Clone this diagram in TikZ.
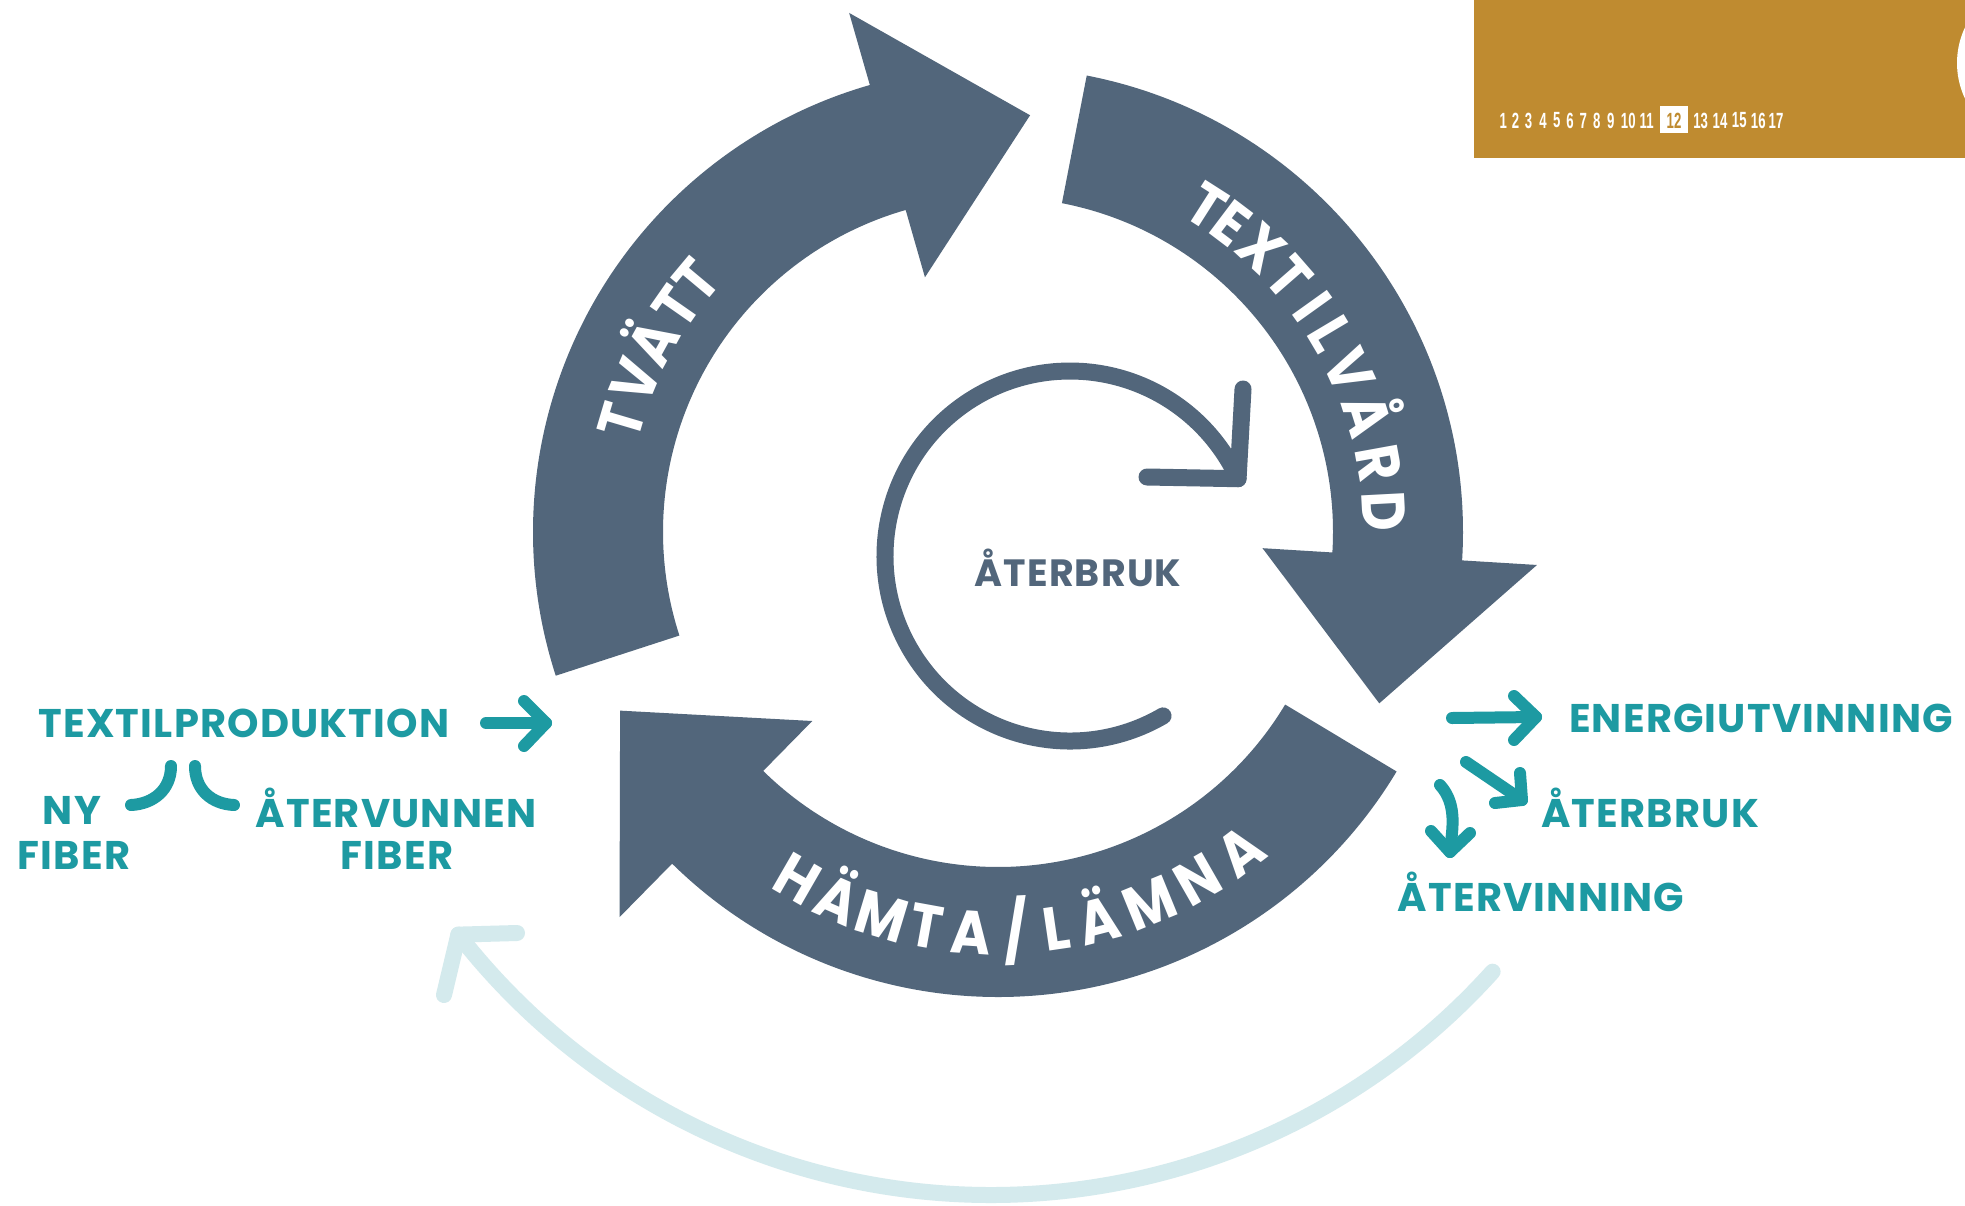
\documentclass[tikz,border=0pt]{standalone}
\usepackage{fontspec}
\setmainfont{Poppins}
\newfontfamily\numfont{Liberation Sans}[FakeStretch=0.6]
\usetikzlibrary{arrows.meta}
\definecolor{slate}{HTML}{52667B}
\definecolor{tealc}{HTML}{1D9AA2}
\definecolor{lightc}{HTML}{D4EAED}
\definecolor{goldc}{HTML}{BF8B30}
\newcommand\slsh{/}
\newcommand\cycarrow[3]{%
  \fill[slate] (#1:465) arc[start angle=#1, end angle=#2, radius=465]
    -- (#2:540) -- (#3:418) -- (#2:265) -- (#2:335)
    arc[start angle=#2, end angle=#1, radius=335] -- cycle;}
\begin{document}
\begin{tikzpicture}[x=1pt,y=-1pt,
  arcl/.style={text=white, font=\fontsize{61}{61}\selectfont\bfseries\addfontfeature{FakeStretch=0.9}, inner sep=0pt, text height=43pt, text depth=0pt},
  tealtxt/.style={text=tealc, font=\fontsize{40}{40}\selectfont\bfseries\addfontfeature{LetterSpace=3}, inner sep=0pt, text height=28pt, text depth=0pt},
  slatetxt/.style={text=slate, font=\fontsize{38}{38}\selectfont\bfseries\addfontfeature{LetterSpace=3}, inner sep=0pt, text height=27pt, text depth=0pt},
  tline/.style={draw=tealc, line width=12pt, line cap=round, line join=round},
  numtxt/.style={text=white, font=\fontsize{22}{22}\selectfont\numfont\bfseries, inner sep=0pt},
]
\useasboundingbox (0,0) rectangle (1965,1205);
\fill[white] (0,0) rectangle (1965,1205);

% gold tab
\fill[goldc] (1474,0) rectangle (1980,158);
\fill[white] (2040,63) circle[radius=83];
\fill[white] (1660,106) rectangle (1688,133);
\foreach \n/\x [count=\i] in {1/1503.3,2/1515.5,3/1528.5,4/1543,5/1556.7,6/1570,7/1583.3,8/1596.7,9/1610.7,10/1628.3,11/1646.7,13/1700.7,14/1720,15/1739.3,16/1758.3,17/1776}
  \node[numtxt] (num\i) at (\x,120.5) {\n};
\node[numtxt, text=goldc] (num12) at (1674,120.5) {12};

% light return arc
\draw[lightc, line width=16pt, line cap=round, line join=round]
  (991,520) ++(42:675) arc[start angle=42, end angle=142.1, radius=675] coordinate (lE);
\coordinate (lA1) at (517,933);
\coordinate (lA2) at (444,995);
\draw[lightc, line width=16pt, line cap=round, line join=round] (lA1) -- (lE) -- (lA2);

% big cycle
\begin{scope}[shift={(998,532)}]
  \cycarrow{-198}{-106}{-85.6}
  \cycarrow{-79}{3.5}{24.2}
  \cycarrow{31}{134.5}{154.7}
  \foreach \ch/\a [count=\i] in {T/163.5,V/157.3,Ä/151.2,T/145.1,T/140.1}
    \node[arcl, rotate=\a-90] (tv\i) at ({0-\a}:393) {\ch};
  \foreach \ch/\a [count=\i] in {T/57.4,E/52.9,X/47.1,T/41.1,I/35.6,L/30.8,V/24.6,Å/17.6,R/10.3,D/3.0}
    \node[arcl, rotate=\a-90] (tx\i) at ({0-\a}:387) {\ch};
  \foreach \ch/\a [count=\i] in {H/-120,Ä/-113.6,M/-106.8,T/-100.3,A/-93.8,\slsh/-87.4,L/-81.7,Ä/-75.5,M/-67.8,N/-60.2,A/-52.8}
    \node[arcl, rotate=\a+90] (hl\i) at ({0-(\a)}:401) {\ch};
\end{scope}

% inner reuse ring
\draw[slate, line width=17pt, line cap=round, line join=round]
  (1070,556) ++(59.8:185) arc[start angle=59.8, end angle=335.3, radius=185] coordinate (rE);
\coordinate (rA1) at (1147,477);
\coordinate (rA2) at (1243,389);
\draw[slate, line width=17pt, line cap=round, line join=round] (rA1) -- (rE) -- (rA2);
\node[slatetxt] (ctr) at (1078,573) {ÅTERBRUK};

% left texts
\node[tealtxt] (tprod) at (244,723) {TEXTILPRODUKTION};
\node[tealtxt] (ny) at (72,810) {NY};
\node[tealtxt] (fib1) at (74,855) {FIBER};
\node[tealtxt] (atv) at (396,813) {ÅTERVUNNEN};
\node[tealtxt] (fib2) at (397,855) {FIBER};
\coordinate (tpS) at (486,723);
\coordinate (tpE) at (546,723);
\coordinate (tpU) at (524,701);
\coordinate (tpD) at (524,746);
\draw[tline] (tpS) -- (tpE);
\draw[tline] (tpU) -- (tpE) -- (tpD);
\coordinate (bl1) at (131,805);
\coordinate (bl2) at (171,766);
\coordinate (br1) at (195,766);
\coordinate (br2) at (234,805);
\draw[tline] (bl1) .. controls (153,804) and (171,790) .. (bl2);
\draw[tline] (br1) .. controls (195,790) and (212,804) .. (br2);

% right texts
\node[tealtxt] (energi) at (1761,718) {ENERGIUTVINNING};
\node[tealtxt] (aterb) at (1650,813) {ÅTERBRUK};
\node[tealtxt] (aterv) at (1541,897) {ÅTERVINNING};
\coordinate (eS) at (1452,718);
\coordinate (eE) at (1536,717);
\coordinate (eU) at (1514,696);
\coordinate (eD) at (1514,740);
\draw[tline] (eS) -- (eE);
\draw[tline] (eU) -- (eE) -- (eD);
\coordinate (dS) at (1466,762);
\coordinate (dE) at (1522,800);
\coordinate (dU) at (1520,773);
\coordinate (dL) at (1495,803);
\draw[tline] (dS) -- (dE);
\draw[tline] (dU) -- (dE) -- (dL);
\coordinate (cS) at (1440,785);
\coordinate (cE) at (1450,852);
\coordinate (cL) at (1431,831);
\coordinate (cR) at (1470,833);
\draw[tline] (cS) .. controls (1458,805) and (1452,830) .. (cE);
\draw[tline] (cL) -- (cE) -- (cR);
\end{tikzpicture}
\end{document}
